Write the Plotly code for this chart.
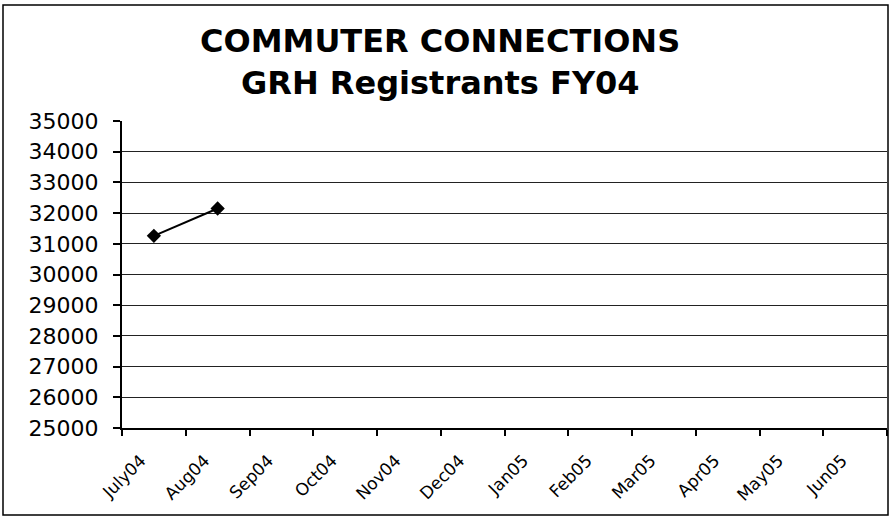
import plotly.graph_objects as go

months = ["July04", "Aug04", "Sep04", "Oct04", "Nov04", "Dec04",
          "Jan05", "Feb05", "Mar05", "Apr05", "May05", "Jun05"]
registrants = [31260, 32150] + [None] * 10
y_ticks = list(range(25000, 35001, 1000))
y_labels = [str(v) for v in y_ticks]
title_lines = ["COMMUTER CONNECTIONS", "GRH Registrants FY04"]

fig = go.Figure()
fig.add_trace(go.Scatter(
    x=months, y=registrants, mode="lines+markers",
    line=dict(color="black", width=2),
    marker=dict(symbol="diamond", size=11, color="black"),
    connectgaps=False, showlegend=False,
))

W, H = 890, 518
L, R, T, B = 122, 3, 121, 90
pw, ph = W - L - R, H - T - B
FONT = "DejaVu Sans, Liberation Sans, Arial, sans-serif"

def py(pix):  # screen y pixel -> paper y
    return ((H - B) - pix) / ph

def px(pix):  # screen x pixel -> paper x
    return (pix - L) / pw

annotations = [
    dict(text="<b>%s</b>" % title_lines[0], xref="paper", yref="paper",
         x=px(440), y=py(41), xanchor="center", yanchor="middle",
         showarrow=False, font=dict(size=32, color="black")),
    dict(text="<b>%s</b>" % title_lines[1], xref="paper", yref="paper",
         x=px(440), y=py(83), xanchor="center", yanchor="middle",
         showarrow=False, font=dict(size=32, color="black")),
]

fig.update_layout(
    width=W, height=H,
    margin=dict(l=L, r=R, t=T, b=B, autoexpand=False),
    paper_bgcolor="white", plot_bgcolor="white",
    font=dict(family=FONT, color="black"),
    xaxis=dict(
        type="category", categoryorder="array", categoryarray=months,
        range=[-0.5, len(months) - 0.5],
        tickson="boundaries", ticks="outside", ticklen=6, tickwidth=1.5, tickcolor="black",
        showline=True, linecolor="black", linewidth=2,
        showgrid=False, tickangle=-45,
        tickfont=dict(size=17),
        ticklabelstandoff=14, ticklabelshift=-13,
        automargin=False,
    ),
    yaxis=dict(
        range=[25000, 35000], tickvals=y_ticks, ticktext=y_labels,
        ticks="outside", ticklen=7, tickwidth=1.5, tickcolor="black",
        showline=True, linecolor="black", linewidth=2,
        showgrid=True, gridcolor="#222", gridwidth=1,
        tickfont=dict(size=22), zeroline=False, automargin=False,
        ticklabelstandoff=10,
    ),
    annotations=annotations,
    shapes=[dict(
        type="rect", xref="paper", yref="paper",
        x0=px(3), x1=px(888), y0=py(515), y1=py(5),
        line=dict(color="black", width=1.5), fillcolor="rgba(0,0,0,0)",
        layer="below",
    )],
)

fig.write_html("out.html", config={"displayModeBar": False},
               post_script="document.body.style.margin='0';")
